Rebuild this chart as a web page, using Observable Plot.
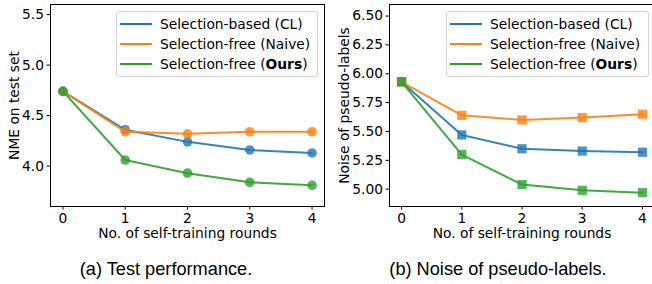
<!DOCTYPE html>
<html>
<head>
<meta charset="utf-8">
<script src="https://cdn.jsdelivr.net/npm/d3@7"></script>
<script src="https://cdn.jsdelivr.net/npm/@observablehq/plot@0.6"></script>
<style>
  html, body { margin: 0; padding: 0; background: #fff; overflow: hidden; }
  #wrap { position: relative; width: 652px; height: 284px; overflow: hidden; font-family: "DejaVu Sans", sans-serif; }
  .panel { position: absolute; top: 0; }
  .legend { position: absolute; box-sizing: border-box; border: 1px solid #d3d3d3; border-radius: 3px; background: rgba(255,255,255,0.85); font-family: "DejaVu Sans", sans-serif; font-size: 13.8px; color: #000; }
  .row { position: absolute; left: 0; height: 20px; display: flex; align-items: center; white-space: nowrap; }
  .swatch { width: 32px; height: 2px; margin-left: 3px; margin-right: 8px; }
  .caption { position: absolute; font-family: "Liberation Sans", Arial, sans-serif; font-size: 18.2px; line-height: 21px; color: #000; white-space: nowrap; transform: translateX(-50%); }
</style>
</head>
<body>
<div id="wrap"></div>
<script>
const rounds = [0, 1, 2, 3, 4];
const seriesNames = ["Selection-based (CL)", "Selection-free (Naive)", "Selection-free (Ours)"];
const colors = ["#1f77b4", "#ff7f0e", "#2ca02c"];

const nmeCL    = [4.74, 4.36, 4.24, 4.16, 4.13];
const nmeNaive = [4.74, 4.34, 4.32, 4.34, 4.34];
const nmeOurs  = [4.74, 4.06, 3.93, 3.84, 3.81];

const noiseCL    = [5.93, 5.47, 5.35, 5.33, 5.32];
const noiseNaive = [5.93, 5.64, 5.60, 5.62, 5.65];
const noiseOurs  = [5.93, 5.30, 5.04, 4.99, 4.97];

const nmeTicks = [4.0, 4.5, 5.0, 5.5];
const noiseTicks = [5.00, 5.25, 5.50, 5.75, 6.00, 6.25, 6.50];

const yLabelA = "NME on test set";
const yLabelB = "Noise of pseudo-labels";
const xLabel = "No. of self-training rounds";
const captionA = "(a) Test performance.";
const captionB = "(b) Noise of pseudo-labels.";

function toRows(arrays) {
  return arrays.map((vals, i) => vals.map((v, j) => ({round: rounds[j], value: v, series: seriesNames[i]})));
}

function panel({arrays, yDomain, yTicks, yFormat, yLabel, width, marginLeft, marginRight, symbol, r, labelDx}) {
  const groups = toRows(arrays);
  const marks = [];
  groups.forEach((rows) => {
    marks.push(Plot.line(rows, {x: "round", y: "value", stroke: "series", strokeWidth: 2, strokeOpacity: 0.9}));
    marks.push(Plot.dot(rows, {x: "round", y: "value", fill: "series", symbol: () => symbol, r, fillOpacity: 0.8, stroke: "none"}));
  });
  return Plot.plot({
    width, height: 250,
    marginLeft, marginRight, marginTop: 4, marginBottom: 44,
    style: {fontFamily: "DejaVu Sans, sans-serif", fontSize: "13.8px", color: "#000", background: "transparent", overflow: "visible"},
    x: {domain: [-0.2, 4.2], ticks: rounds},
    y: {domain: yDomain},
    color: {domain: seriesNames, range: colors},
    symbol: {type: "identity"},
    marks: [
      Plot.axisX({ticks: rounds, tickSize: 3.5, tickPadding: 3, tickFormat: d3.format("d"), label: null}),
      Plot.axisY({ticks: yTicks, tickSize: 3.5, tickPadding: 3, tickFormat: yFormat, label: null}),
      ...marks,
      Plot.frame({stroke: "#000", strokeWidth: 1}),
      Plot.text([yLabel], {frameAnchor: "left", text: d => d, rotate: -90, dx: labelDx, textAnchor: "middle", lineAnchor: "middle", fill: "#000"}),
      Plot.text([xLabel], {frameAnchor: "bottom", text: d => d, dy: 27, textAnchor: "middle", lineAnchor: "middle", fill: "#000"})
    ]
  });
}

const wrap = document.getElementById("wrap");

const pA = panel({arrays: [nmeCL, nmeNaive, nmeOurs], yDomain: [3.6, 5.6], yTicks: nmeTicks, yFormat: d3.format(".1f"),
  yLabel: yLabelA, width: 326, marginLeft: 50, marginRight: 2, symbol: "circle", r: 4.8, labelDx: -36});
pA.classList.add("panel"); pA.style.left = "0px";
wrap.appendChild(pA);

const pB = panel({arrays: [noiseCL, noiseNaive, noiseOurs], yDomain: [4.85, 6.6], yTicks: noiseTicks, yFormat: d3.format(".2f"),
  yLabel: yLabelB, width: 330, marginLeft: 63, marginRight: 2, symbol: "square", r: 5.2, labelDx: -45});
pB.classList.add("panel"); pB.style.left = "326px";
wrap.appendChild(pB);

function legend(left, top, width) {
  const box = document.createElement("div");
  box.className = "legend";
  box.style.left = left + "px"; box.style.top = top + "px";
  box.style.width = width + "px"; box.style.height = "66px";
  seriesNames.forEach((name, i) => {
    const row = document.createElement("div");
    row.className = "row";
    row.style.top = (2 + i * 19.8) + "px";
    const sw = document.createElement("div");
    sw.className = "swatch"; sw.style.background = colors[i];
    row.appendChild(sw);
    const t = document.createElement("span");
    if (i === 2) {
      t.innerHTML = "Selection-free (<b>Ours</b>)";
    } else {
      t.textContent = name;
    }
    row.appendChild(t);
    box.appendChild(row);
  });
  wrap.appendChild(box);
}
legend(116, 11, 202);
legend(446, 11, 203);

function caption(text, cx) {
  const c = document.createElement("div");
  c.className = "caption";
  c.textContent = text;
  c.style.left = cx + "px";
  c.style.top = "259px";
  wrap.appendChild(c);
}
caption(captionA, 166);
caption(captionB, 498);
</script>
</body>
</html>
